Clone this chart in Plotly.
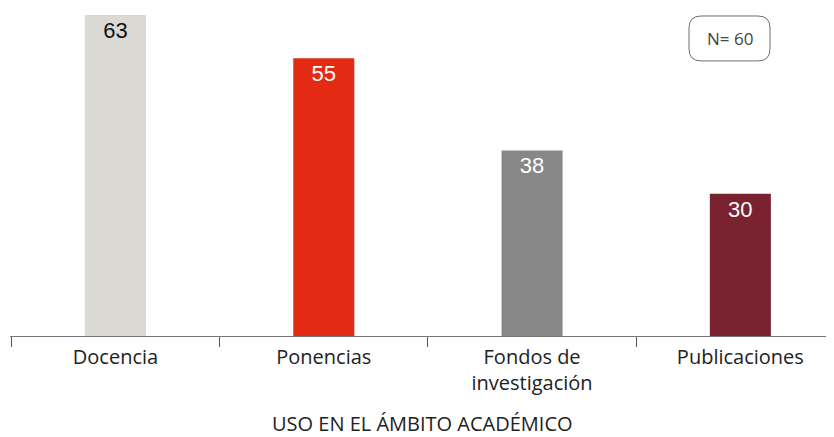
import plotly.graph_objects as go

categories = ["Docencia", "Ponencias", "Fondos de<br>investigación", "Publicaciones"]
values = [63, 55, 38, 30]
bar_colors = ["#DAD9D4", "#E32B14", "#878787", "#7B2230"]
label_colors = ["#111111", "#FFFFFF", "#FFFFFF", "#FFFFFF"]
n_label = "N= 60"
axis_title = "USO EN EL ÁMBITO ACADÉMICO"

# page body adds an 8px offset; layout pixel targets below are in figure coordinates
W, H = 834, 437
ML, MR, MT = 2, 0, 0
PH = 328.5
MB = H - MT - PH
PW = W - ML - MR

fig = go.Figure()
fig.add_trace(go.Bar(
    x=categories, y=values,
    marker=dict(color=bar_colors, line=dict(width=0)),
    width=0.293,
    text=[str(v) for v in values],
    textposition="inside",
    insidetextanchor="end",
    textangle=0,
    textfont=dict(family="Liberation Sans, Arial", size=22, color=label_colors),
    cliponaxis=False,
    hoverinfo="skip",
))

def px_x(p):
    return (p - ML) / PW

def px_y(p):
    return (MT + PH - p) / PH

# rounded box for N label
x0, x1, y0, y1, r = 681, 762, 8, 53, 12
path = (
    f"M {px_x(x0 + r)},{px_y(y0)} L {px_x(x1 - r)},{px_y(y0)} "
    f"Q {px_x(x1)},{px_y(y0)} {px_x(x1)},{px_y(y0 + r)} "
    f"L {px_x(x1)},{px_y(y1 - r)} Q {px_x(x1)},{px_y(y1)} {px_x(x1 - r)},{px_y(y1)} "
    f"L {px_x(x0 + r)},{px_y(y1)} Q {px_x(x0)},{px_y(y1)} {px_x(x0)},{px_y(y1 - r)} "
    f"L {px_x(x0)},{px_y(y0 + r)} Q {px_x(x0)},{px_y(y0)} {px_x(x0 + r)},{px_y(y0)} Z"
)
fig.add_shape(type="path", xref="paper", yref="paper", path=path,
              line=dict(color="#6E6E6E", width=1), fillcolor="rgba(0,0,0,0)")
fig.add_annotation(xref="paper", yref="paper", x=px_x((x0 + x1) / 2), y=px_y((y0 + y1) / 2),
                   xanchor="center", yanchor="middle",
                   text=n_label, showarrow=False,
                   font=dict(family="Open Sans", size=17, color="#444444"))

fig.add_annotation(xref="paper", yref="paper", x=px_x(414), y=px_y(416),
                   xanchor="center", yanchor="middle",
                   text=axis_title, showarrow=False,
                   font=dict(family="Open Sans", size=20, color="#222222"))

fig.update_layout(
    width=W, height=H,
    margin=dict(l=ML, r=MR, t=MT, b=MB, autoexpand=False),
    paper_bgcolor="white", plot_bgcolor="white",
    showlegend=False,
    xaxis=dict(
        range=[-0.5065, 3.488],
        tickson="boundaries",
        ticks="outside", ticklen=10, tickcolor="#555555", tickwidth=1,
        showline=True, linecolor="#777777", linewidth=1,
        showgrid=False, zeroline=False,
        ticklabelstandoff=3,
        tickfont=dict(family="Open Sans", size=20, color="#222222"),
    ),
    yaxis=dict(
        range=[3.73, 64.3],
        visible=False, showgrid=False, zeroline=False,
    ),
)

fig.write_html("out.html")
